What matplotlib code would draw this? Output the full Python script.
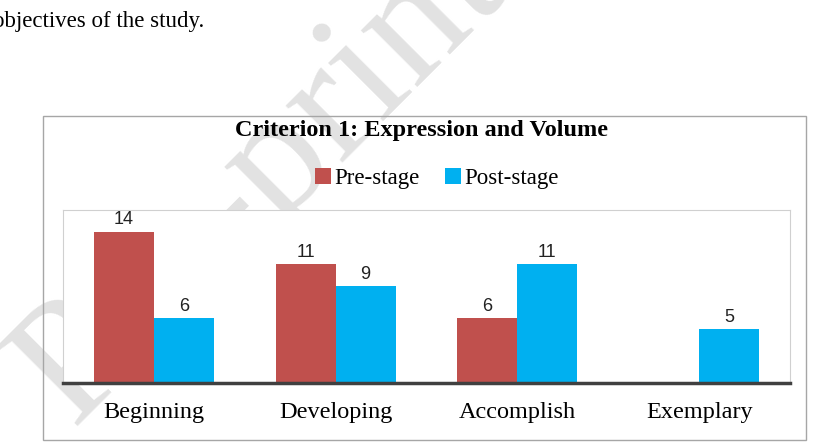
import matplotlib
matplotlib.use("Agg")
import matplotlib.pyplot as plt
from matplotlib.patches import Rectangle
import numpy as np

categories = ["Beginning", "Developing", "Accomplish", "Exemplary"]
series_names = ["Pre-stage", "Post-stage"]
pre_stage = [14, 11, 6, 0]
post_stage = [6, 9, 11, 5]
title = "Criterion 1: Expression and Volume"
page_text = "objectives of the study."
watermark = "Pre-print"

colors = ["#C0504D", "#00B0F0"]
serif = ["Liberation Serif", "DejaVu Serif"]
sans = ["Liberation Sans", "DejaVu Sans"]

fig = plt.figure(figsize=(8.16, 4.48), dpi=100)
fig.patch.set_facecolor("white")

# page text
fig.text(-0.008, 0.952, page_text, family=serif, fontsize=16.5, va="center", ha="left", color="black")

# watermark (behind the plot area)
fig.text(0.32, 0.60, watermark, family=serif, fontsize=125, color="#e2e2e2",
         rotation=45, ha="center", va="center", zorder=-5)

# chart outer box
fig.patches.append(Rectangle((0.0527, 0.018), 0.935, 0.723, transform=fig.transFigure,
                             facecolor="none", edgecolor="#a6a6a6", lw=1.0, zorder=1))

fig.text(0.517, 0.709, title, family=serif, fontsize=17.5, fontweight="bold",
         ha="center", va="center")

ax = fig.add_axes([0.0772, 0.145, 0.891, 0.386])
ax.set_facecolor("white")
x = np.arange(len(categories))
w = 0.33
vals = [pre_stage, post_stage]
for i, (name, v) in enumerate(zip(series_names, vals)):
    pos = x + (i - 0.5) * w
    ax.bar(pos, v, width=w, color=colors[i], label=name, zorder=2)
    for p, val in zip(pos, v):
        if val > 0:
            ax.text(p, val + 0.3, str(val), ha="center", va="bottom",
                    family=sans, fontsize=13, color="#222222")

ax.set_xlim(-0.5, len(categories) - 0.5)
ax.set_ylim(0, 16)
ax.set_yticks([])
ax.set_xticks(x)
ax.set_xticklabels(categories, family=serif, fontsize=17.5)
ax.tick_params(axis="x", length=0, pad=14)
for s in ["top", "left", "right"]:
    ax.spines[s].set_color("#d0d0d0")
    ax.spines[s].set_linewidth(0.8)
ax.spines["bottom"].set_color("#404040")
ax.spines["bottom"].set_linewidth(2.5)
ax.spines["bottom"].set_zorder(3)

leg = fig.legend(loc="center", bbox_to_anchor=(0.535, 0.601), ncol=2, frameon=False,
                 prop={"family": serif, "size": 16.5}, handlelength=0.7, handleheight=0.7,
                 handletextpad=0.15, columnspacing=1.1)

fig.savefig("out.png", dpi=100, facecolor="white")
